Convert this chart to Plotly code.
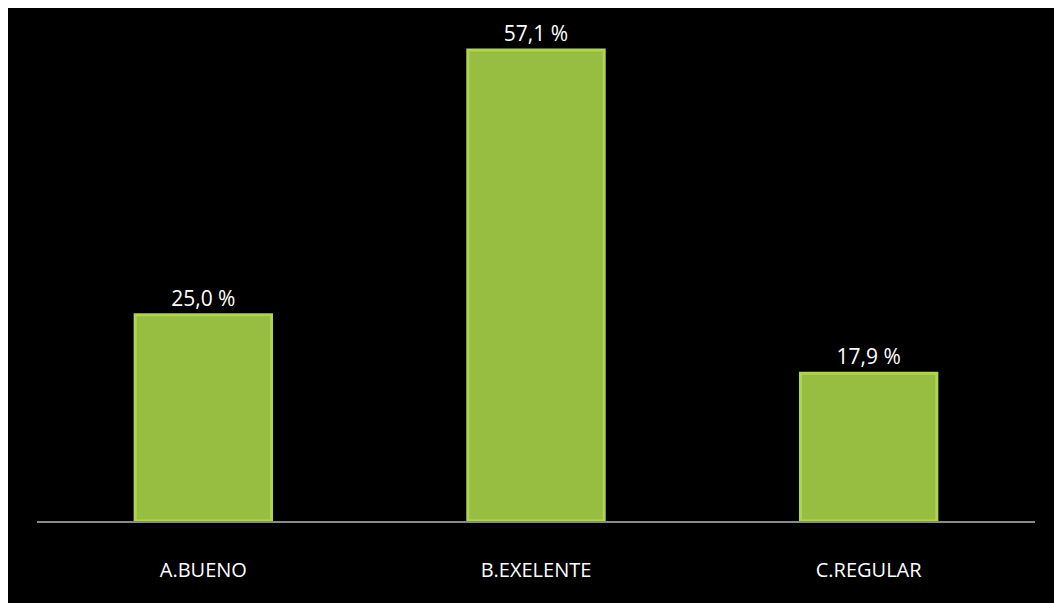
import plotly.graph_objects as go

categories = ["A.BUENO", "B.EXELENTE", "C.REGULAR"]
values = [25.0, 57.1, 17.9]

W, H = 1062, 603
L, R, T, B = 29, 35, 0, 90

fig = go.Figure(go.Bar(
    x=categories, y=values,
    marker=dict(color="#97BE40", line=dict(color="#AED451", width=3)),
    texttemplate="%{y:.1f} %", textposition="outside",
    textfont=dict(color="white", size=21, family="Open Sans"),
    cliponaxis=False,
))

fig.update_layout(
    width=W, height=H,
    margin=dict(l=L, r=R, t=T, b=B),
    paper_bgcolor="black",
    plot_bgcolor="black",
    separators=",.",
    bargap=0.59,
    showlegend=False,
    font=dict(family="Open Sans", color="white", size=20),
    xaxis=dict(
        showline=True, linecolor="#8a8a8a", linewidth=2,
        showgrid=False, zeroline=False, ticks="",
        ticklabelstandoff=30,
        tickfont=dict(color="white", size=20, family="Open Sans"),
    ),
    yaxis=dict(
        range=[0, 62.2], visible=False, showgrid=False, zeroline=False,
    ),
)

fig.write_html("out.html")
